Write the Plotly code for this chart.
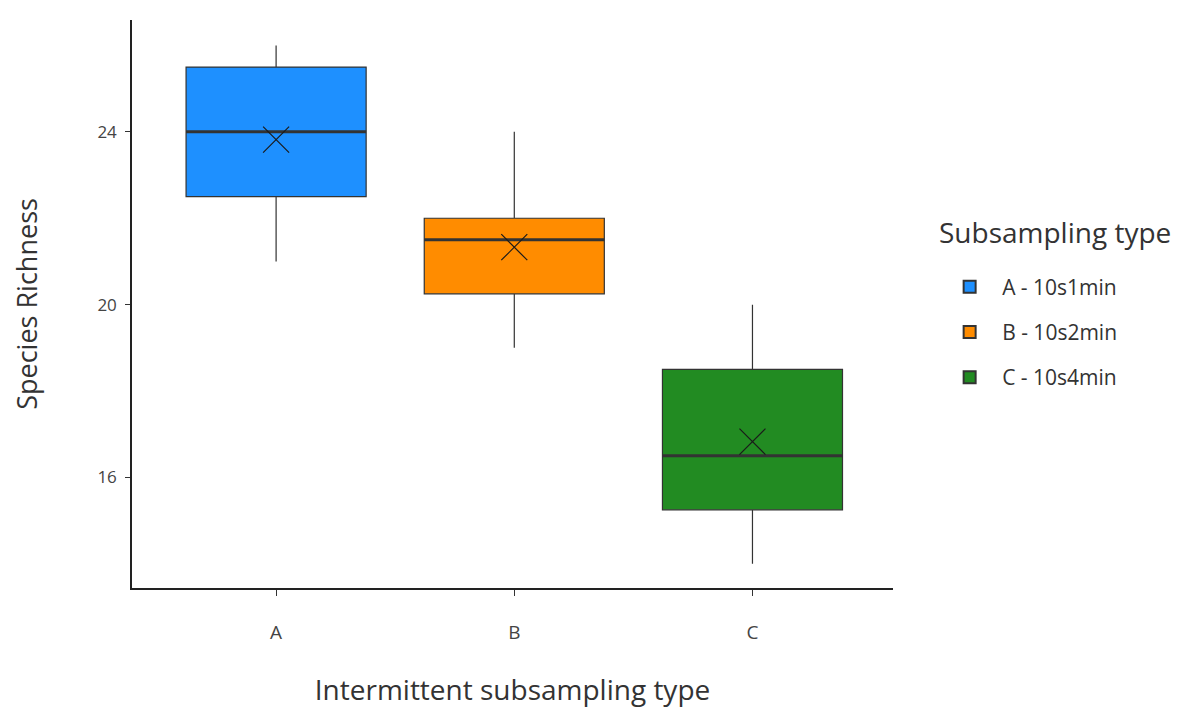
import plotly.graph_objects as go

categories = ["A", "B", "C"]
legend_names = ["A - 10s1min", "B - 10s2min", "C - 10s4min"]
q1 = [22.5, 20.25, 15.25]
median = [24.0, 21.5, 16.5]
q3 = [25.5, 22.0, 18.5]
lower = [21.0, 19.0, 14.0]
upper = [26.0, 24.0, 20.0]
means = [23.82, 21.33, 16.83]
colors = ["#1E90FF", "#FF8C00", "#228B22"]
yticks = [16, 20, 24]

FONT = "Open Sans"
BOXW = 0.756
xpos = list(range(len(categories)))

fig = go.Figure()
for i, cat in enumerate(categories):
    fig.add_trace(go.Box(
        x=[xpos[i]], q1=[q1[i]], median=[median[i]], q3=[q3[i]],
        lowerfence=[lower[i]], upperfence=[upper[i]],
        name=legend_names[i], fillcolor=colors[i],
        line=dict(color="#333333", width=1.2), whiskerwidth=0,
        width=BOXW, boxpoints=False, legendgroup=cat, showlegend=True,
        hoverinfo="skip",
    ))
    # thicker median line
    fig.add_trace(go.Scatter(
        x=[xpos[i] - BOXW / 2, xpos[i] + BOXW / 2], y=[median[i], median[i]],
        mode="lines", line=dict(color="#333333", width=3),
        showlegend=False, hoverinfo="skip", legendgroup=cat,
    ))
    # mean marker
    fig.add_trace(go.Scatter(
        x=[xpos[i]], y=[means[i]], mode="markers",
        marker=dict(symbol="x-thin-open", size=26, color="#1a1a1a",
                    line=dict(color="#1a1a1a", width=1.2)),
        showlegend=False, hoverinfo="skip", legendgroup=cat,
    ))

fig.add_annotation(
    text="Subsampling type", xref="paper", yref="paper",
    x=1.058, y=0.6268, xanchor="left", yanchor="middle", showarrow=False,
    font=dict(size=28, color="#333333", family=FONT),
)

fig.update_layout(
    width=1191, height=711,
    paper_bgcolor="white", plot_bgcolor="white",
    margin=dict(l=124, r=306, t=12, b=131),
    font=dict(family=FONT, color="#222222"),
    xaxis=dict(
        range=[-0.605, 2.59], tickmode="array", tickvals=xpos, ticktext=categories,
        showline=True, linecolor="#222222", linewidth=1.5,
        ticks="outside", ticklen=6, tickcolor="#333333", ticklabelstandoff=20,
        tickfont=dict(size=19, color="#444444"), showgrid=False, zeroline=False,
        title=dict(text="Intermittent subsampling type", font=dict(size=28, color="#333333"), standoff=37),
    ),
    yaxis=dict(
        range=[13.44, 26.59], tickvals=yticks,
        showline=True, linecolor="#222222", linewidth=1.5,
        ticks="outside", ticklen=5, tickcolor="#333333", ticklabelstandoff=5,
        tickfont=dict(size=17, color="#444444"), showgrid=False, zeroline=False,
        title=dict(text="Species Richness", font=dict(size=27, color="#333333"), standoff=54),
    ),
    legend=dict(
        x=1.058, y=0.566, xanchor="left", yanchor="top",
        font=dict(size=21, color="#333333"),
        tracegroupgap=15, itemsizing="constant", itemwidth=55,
    ),
    showlegend=True,
)

fig.write_html("out.html")
